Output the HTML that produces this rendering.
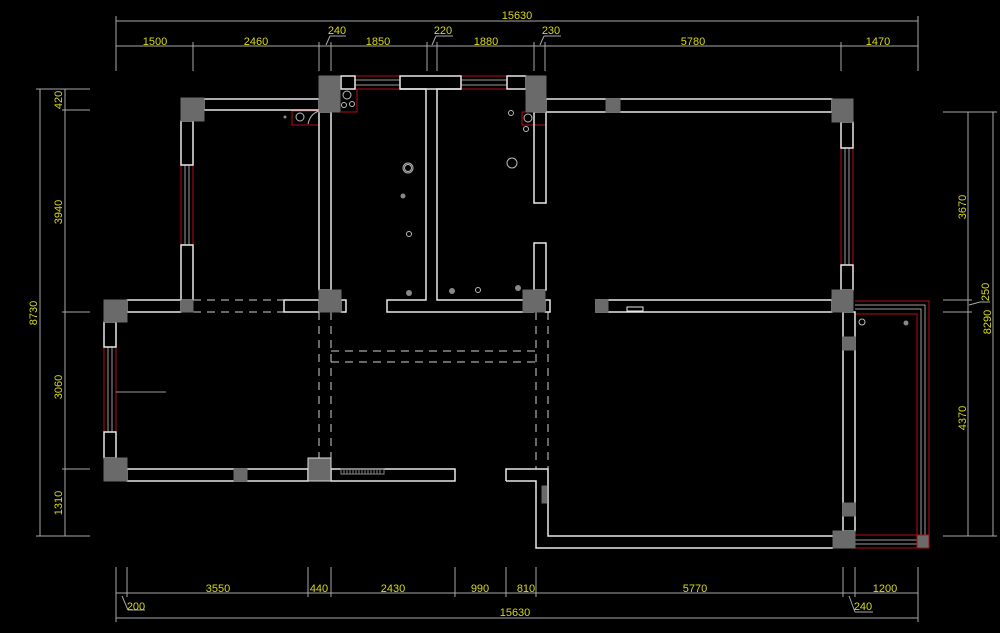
<!DOCTYPE html>
<html><head><meta charset="utf-8"><style>
html,body{margin:0;padding:0;background:#000;}
svg{display:block;}
text{font-family:"Liberation Sans Narrow","Liberation Sans",sans-serif;font-size:11px;fill:#d8d818;}
</style></head><body>
<svg width="1000" height="633" viewBox="0 0 1000 633" xmlns="http://www.w3.org/2000/svg">
<rect width="1000" height="633" fill="#000"/>
<!-- dimension lines -->
<g stroke="#a8a8a8" stroke-width="1" fill="none">
<!-- top -->
<line x1="116" y1="21" x2="918" y2="21"/>
<line x1="116" y1="46" x2="918" y2="46"/>
<g>
<line x1="116" y1="16" x2="116" y2="71"/><line x1="918" y1="16" x2="918" y2="71"/>
<line x1="193" y1="42" x2="193" y2="71"/><line x1="319" y1="42" x2="319" y2="71"/>
<line x1="331" y1="42" x2="331" y2="71"/><line x1="427" y1="42" x2="427" y2="71"/>
<line x1="437" y1="42" x2="437" y2="71"/><line x1="534" y1="42" x2="534" y2="71"/>
<line x1="545" y1="42" x2="545" y2="71"/><line x1="841" y1="42" x2="841" y2="71"/>
</g>
<line x1="326" y1="45" x2="330" y2="36"/><line x1="330" y1="36" x2="346" y2="36"/>
<line x1="432" y1="45" x2="436" y2="36"/><line x1="436" y1="36" x2="453" y2="36"/>
<line x1="540" y1="45" x2="544" y2="36"/><line x1="544" y1="36" x2="561" y2="36"/>
<!-- left -->
<line x1="40" y1="89" x2="40" y2="536"/>
<line x1="65" y1="89" x2="65" y2="536"/>
<line x1="36" y1="89" x2="90" y2="89"/><line x1="62" y1="110" x2="90" y2="110"/>
<line x1="62" y1="312" x2="90" y2="312"/><line x1="62" y1="469" x2="90" y2="469"/>
<line x1="36" y1="536" x2="90" y2="536"/>
<!-- right -->
<line x1="968" y1="112" x2="968" y2="536"/>
<line x1="993" y1="112" x2="993" y2="536"/>
<line x1="943" y1="112" x2="997" y2="112"/><line x1="943" y1="300" x2="972" y2="300"/>
<line x1="943" y1="312" x2="972" y2="312"/><line x1="943" y1="536" x2="997" y2="536"/>
<line x1="969" y1="305" x2="980" y2="302"/><line x1="980" y1="302" x2="990" y2="302"/>
<!-- bottom -->
<line x1="116" y1="593" x2="918" y2="593"/>
<line x1="116" y1="618" x2="918" y2="618"/>
<line x1="116" y1="567" x2="116" y2="622"/><line x1="918" y1="567" x2="918" y2="622"/>
<line x1="127" y1="567" x2="127" y2="597"/><line x1="308" y1="567" x2="308" y2="597"/>
<line x1="331" y1="567" x2="331" y2="597"/><line x1="455" y1="567" x2="455" y2="597"/>
<line x1="506" y1="567" x2="506" y2="597"/><line x1="536" y1="567" x2="536" y2="597"/>
<line x1="843" y1="567" x2="843" y2="597"/><line x1="855" y1="567" x2="855" y2="597"/>
<line x1="122" y1="596" x2="128" y2="610"/><line x1="128" y1="610" x2="145" y2="610"/>
<line x1="849" y1="596" x2="855" y2="612"/><line x1="855" y1="612" x2="873" y2="612"/>
</g>
<!-- labels -->
<text x="517" y="19" text-anchor="middle">15630</text>
<text x="155" y="45" text-anchor="middle">1500</text>
<text x="256" y="45" text-anchor="middle">2460</text>
<text x="337" y="34" text-anchor="middle">240</text>
<text x="378" y="45" text-anchor="middle">1850</text>
<text x="443" y="34" text-anchor="middle">220</text>
<text x="486" y="45" text-anchor="middle">1880</text>
<text x="551" y="34" text-anchor="middle">230</text>
<text x="693" y="45" text-anchor="middle">5780</text>
<text x="878" y="45" text-anchor="middle">1470</text>
<text x="218" y="592" text-anchor="middle">3550</text>
<text x="319" y="592" text-anchor="middle">440</text>
<text x="393" y="592" text-anchor="middle">2430</text>
<text x="480" y="592" text-anchor="middle">990</text>
<text x="526" y="592" text-anchor="middle">810</text>
<text x="695" y="592" text-anchor="middle">5770</text>
<text x="885" y="592" text-anchor="middle">1200</text>
<text x="136" y="610" text-anchor="middle">200</text>
<text x="863" y="610" text-anchor="middle">240</text>
<text x="515" y="616" text-anchor="middle">15630</text>
<text transform="translate(62,100) rotate(-90)" text-anchor="middle">420</text>
<text transform="translate(62,212) rotate(-90)" text-anchor="middle">3940</text>
<text transform="translate(37,313) rotate(-90)" text-anchor="middle">8730</text>
<text transform="translate(62,387) rotate(-90)" text-anchor="middle">3060</text>
<text transform="translate(62,503) rotate(-90)" text-anchor="middle">1310</text>
<text transform="translate(966,207) rotate(-90)" text-anchor="middle">3670</text>
<text transform="translate(989,292) rotate(-90)" text-anchor="middle">250</text>
<text transform="translate(991,322) rotate(-90)" text-anchor="middle">8290</text>
<text transform="translate(966,418) rotate(-90)" text-anchor="middle">4370</text>

<!-- red windows & balcony -->
<g stroke="#b01010" stroke-width="1" fill="none">
<rect x="181" y="165" width="12" height="80"/>
<rect x="104" y="347" width="12" height="85"/>
<rect x="841" y="148" width="12" height="117"/>
<rect x="355" y="76" width="45" height="13"/>
<rect x="461" y="76" width="46" height="13"/>
<polyline points="341,89 357,89 357,112 341,112"/>
<rect x="292" y="111" width="27" height="14"/>
<polyline points="546,112 522,112 522,125 546,125"/>
<polyline points="855,301 929,301 929,548 855,548"/>
<polyline points="855,314 917,314 917,535 855,535"/>
</g>
<g stroke="#9a9a9a" stroke-width="1" fill="none">
<line x1="185" y1="165" x2="185" y2="245"/><line x1="189" y1="165" x2="189" y2="245"/>
<line x1="108" y1="347" x2="108" y2="432"/><line x1="112" y1="347" x2="112" y2="432"/>
<line x1="845" y1="148" x2="845" y2="265"/><line x1="849" y1="148" x2="849" y2="265"/>
<line x1="355" y1="80" x2="400" y2="80"/><line x1="355" y1="85" x2="400" y2="85"/>
<line x1="461" y1="80" x2="507" y2="80"/><line x1="461" y1="85" x2="507" y2="85"/>
<polyline points="855,305 925,305 925,544 855,544"/>
<polyline points="855,309 921,309 921,540 855,540"/>
<line x1="116" y1="392" x2="166" y2="392"/>
</g>
<!-- dashed lines -->
<g stroke="#cfcfcf" stroke-width="1" fill="none" stroke-dasharray="8,6">
<line x1="193" y1="300" x2="284" y2="300"/><line x1="193" y1="312" x2="284" y2="312"/>
<line x1="319" y1="312" x2="319" y2="458"/><line x1="331" y1="312" x2="331" y2="458"/>
<line x1="331" y1="351" x2="536" y2="351"/><line x1="331" y1="362" x2="536" y2="362"/>
<line x1="536" y1="312" x2="536" y2="469"/><line x1="548" y1="312" x2="548" y2="469"/>
</g>
<!-- walls -->
<g stroke="#e8e8e8" stroke-width="1.5" fill="none">
<rect x="204" y="99" width="115" height="11"/>
<rect x="181" y="121" width="12" height="44"/>
<rect x="181" y="245" width="12" height="55"/>
<rect x="319" y="112" width="12" height="178"/>
<rect x="341" y="76" width="14" height="13"/>
<rect x="400" y="76" width="61" height="13"/>
<rect x="507" y="76" width="19" height="13"/>
<polyline points="400,89 426,89 426,300 387,300 387,312 534,312"/>
<polyline points="461,89 437,89 437,300 523,300"/>
<rect x="534" y="112" width="12" height="91"/>
<rect x="534" y="243" width="12" height="47"/>
<rect x="546" y="99" width="286" height="13"/>
<rect x="841" y="122" width="12" height="26"/>
<rect x="841" y="265" width="12" height="25"/>
<rect x="127" y="300" width="54" height="12"/>
<rect x="284" y="300" width="35" height="12"/>
<rect x="341" y="300" width="5" height="12"/>
<rect x="545" y="300" width="5" height="12"/>
<rect x="596" y="300" width="236" height="12"/>
<rect x="104" y="322" width="12" height="25"/>
<rect x="104" y="432" width="12" height="26"/>
<rect x="127" y="469" width="181" height="12"/>
<rect x="331" y="469" width="124" height="12"/>
<polyline points="506,481 506,469 548,469 548,536 833,536"/>
<polyline points="506,481 536,481 536,548 833,548"/>
<rect x="843" y="312" width="12" height="219"/>
<rect x="627" y="307" width="16" height="4" stroke-width="1"/>
</g>
<!-- columns -->
<g fill="#6a6a6a" stroke="#6a6a6a">
<rect x="181" y="98" width="23" height="23"/>
<rect x="319" y="76" width="21" height="36"/>
<rect x="526" y="76" width="20" height="36"/>
<rect x="832" y="99" width="21" height="23"/>
<rect x="606" y="99" width="14" height="13"/>
<rect x="104" y="300" width="23" height="22"/>
<rect x="181" y="300" width="12" height="12"/>
<rect x="319" y="290" width="22" height="22"/>
<rect x="523" y="290" width="22" height="22"/>
<rect x="596" y="300" width="12" height="12"/>
<rect x="832" y="290" width="21" height="22"/>
<rect x="104" y="458" width="23" height="23"/>
<rect x="234" y="469" width="13" height="12"/>
<rect x="308" y="458" width="23" height="23" stroke="#ddd"/>
<rect x="843" y="337" width="12" height="13"/>
<rect x="843" y="503" width="12" height="13"/>
<rect x="833" y="531" width="22" height="17"/>
<rect x="917" y="535" width="12" height="13" stroke="#b01010"/>
<rect x="542" y="486" width="5" height="17"/>
</g>
<!-- radiator -->
<g stroke="#888" stroke-width="1">
<rect x="341" y="469" width="43" height="5" fill="none"/>
<path d="M344 469v5M347 469v5M350 469v5M353 469v5M356 469v5M359 469v5M362 469v5M365 469v5M368 469v5M371 469v5M374 469v5M377 469v5M380 469v5"/>
</g>
<!-- fixtures -->
<g stroke="#bbb" stroke-width="1" fill="none">
<circle cx="408" cy="168" r="5"/><circle cx="408" cy="168" r="3.5"/>
<circle cx="512" cy="163" r="5"/>
<circle cx="409" cy="234" r="2.5"/>
<circle cx="478" cy="290" r="2.5"/>
<circle cx="511" cy="113" r="2.5"/>
<circle cx="526" cy="129" r="2.5"/>
<circle cx="528" cy="118" r="4"/>
<circle cx="300" cy="117" r="4"/>
<circle cx="347" cy="95" r="4"/>
<circle cx="344" cy="105" r="2.5"/><circle cx="352" cy="104" r="2.5"/>
<circle cx="862" cy="322" r="3"/>
<path d="M308 124 Q310 114 319 111"/>
</g>
<g fill="#888">
<circle cx="403" cy="196" r="2.5"/>
<circle cx="409" cy="293" r="3"/>
<circle cx="452" cy="291" r="3"/>
<circle cx="518" cy="288" r="3"/>
<circle cx="906" cy="323" r="2.5"/>
<circle cx="285" cy="117" r="1.5"/>
</g>
</svg>
</body></html>
